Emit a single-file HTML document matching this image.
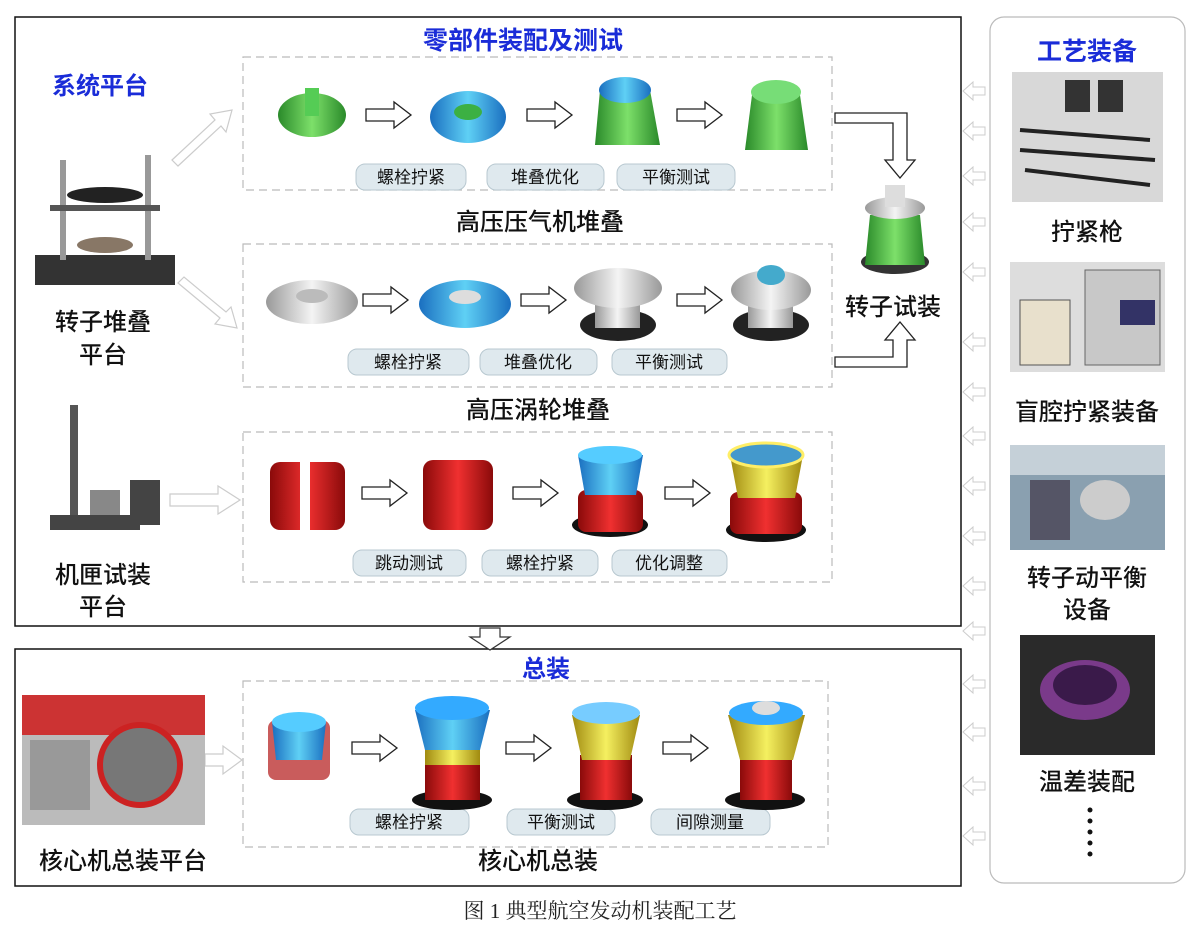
<!DOCTYPE html>
<html><head><meta charset="utf-8"><style>
body{margin:0;background:#fff}
svg{display:block}
.s{font-family:"Liberation Sans","Noto Sans CJK SC",sans-serif}
.sf{font-family:"Liberation Serif","Noto Serif CJK SC",serif}
</style></head><body>
<svg width="1200" height="929" viewBox="0 0 1200 929" xmlns="http://www.w3.org/2000/svg">
<defs>
<linearGradient id="g" x1="0" x2="1"><stop offset="0" stop-color="#2a8a2a"/><stop offset=".5" stop-color="#7de06a"/><stop offset="1" stop-color="#2a8a2a"/></linearGradient>
<linearGradient id="b" x1="0" x2="1"><stop offset="0" stop-color="#1a6fc0"/><stop offset=".5" stop-color="#5fd0f5"/><stop offset="1" stop-color="#1a6fc0"/></linearGradient>
<linearGradient id="r" x1="0" x2="1"><stop offset="0" stop-color="#8a0a0a"/><stop offset=".5" stop-color="#f03030"/><stop offset="1" stop-color="#8a0a0a"/></linearGradient>
<linearGradient id="w" x1="0" x2="1"><stop offset="0" stop-color="#999"/><stop offset=".5" stop-color="#f4f4f4"/><stop offset="1" stop-color="#999"/></linearGradient>
<linearGradient id="y" x1="0" x2="1"><stop offset="0" stop-color="#a08a10"/><stop offset=".5" stop-color="#f5f060"/><stop offset="1" stop-color="#a08a10"/></linearGradient>
<g id="ra"><path d="M0,-6 H28 V-13 L45,0 L28,13 V6 H0 Z" fill="#fff" stroke="#222" stroke-width="1.3"/></g>
</defs>
<rect x="15" y="17" width="946" height="609" fill="none" stroke="#111" stroke-width="1.5"/>
<rect x="15" y="649" width="946" height="237" fill="none" stroke="#111" stroke-width="1.5"/>
<rect x="990" y="17" width="195" height="866" rx="14" fill="none" stroke="#bbb" stroke-width="1.2"/>
<g fill="none" stroke="#bbb" stroke-dasharray="8,5" stroke-width="1.2">
<rect x="243" y="57" width="589" height="133"/>
<rect x="243" y="244" width="589" height="143"/>
<rect x="243" y="432" width="589" height="150"/>
<rect x="243" y="681" width="585" height="166"/>
</g>
<g class="s" font-weight="bold" fill="#1a2cd8" text-anchor="middle">
<text x="523" y="49" font-size="25">零部件装配及测试</text>
<text x="100" y="94" font-size="24">系统平台</text>
<text x="546" y="677" font-size="24">总装</text>
<text x="1087" y="60" font-size="25">工艺装备</text>
</g>
<g class="s" font-size="24" font-weight="500" fill="#111" text-anchor="middle">
<text x="540" y="230">高压压气机堆叠</text>
<text x="538" y="418">高压涡轮堆叠</text>
<text x="538" y="869">核心机总装</text>
<text x="893" y="315">转子试装</text>
<text x="103" y="330">转子堆叠</text><text x="103" y="363">平台</text>
<text x="103" y="583">机匣试装</text><text x="103" y="615">平台</text>
<text x="123" y="869">核心机总装平台</text>
<text x="1087" y="240">拧紧枪</text>
<text x="1087" y="420">盲腔拧紧装备</text>
<text x="1087" y="586">转子动平衡</text><text x="1087" y="618">设备</text>
<text x="1087" y="790">温差装配</text>
</g>
<text class="sf" x="600" y="918" font-size="21" fill="#222" text-anchor="middle">图 1 典型航空发动机装配工艺</text>
<g fill="#111"><circle cx="1090" cy="810" r="2.5"/><circle cx="1090" cy="821" r="2.5"/><circle cx="1090" cy="832" r="2.5"/><circle cx="1090" cy="843" r="2.5"/><circle cx="1090" cy="854" r="2.5"/></g>
<g fill="#dfe9ee" stroke="#b8c8d0">
<rect x="356" y="164" width="110" height="26" rx="9"/><rect x="487" y="164" width="117" height="26" rx="9"/><rect x="617" y="164" width="118" height="26" rx="9"/>
<rect x="348" y="349" width="121" height="26" rx="9"/><rect x="480" y="349" width="117" height="26" rx="9"/><rect x="612" y="349" width="115" height="26" rx="9"/>
<rect x="353" y="550" width="113" height="26" rx="9"/><rect x="482" y="550" width="116" height="26" rx="9"/><rect x="612" y="550" width="115" height="26" rx="9"/>
<rect x="350" y="809" width="119" height="26" rx="9"/><rect x="507" y="809" width="108" height="26" rx="9"/><rect x="651" y="809" width="119" height="26" rx="9"/>
</g>
<g class="s" font-size="17" fill="#111" text-anchor="middle">
<text x="411" y="183">螺栓拧紧</text><text x="545" y="183">堆叠优化</text><text x="676" y="183">平衡测试</text>
<text x="408" y="368">螺栓拧紧</text><text x="538" y="368">堆叠优化</text><text x="669" y="368">平衡测试</text>
<text x="409" y="569">跳动测试</text><text x="540" y="569">螺栓拧紧</text><text x="669" y="569">优化调整</text>
<text x="409" y="828">螺栓拧紧</text><text x="561" y="828">平衡测试</text><text x="710" y="828">间隙测量</text>
</g>
<use href="#ra" x="366" y="115"/><use href="#ra" x="527" y="115"/><use href="#ra" x="677" y="115"/>
<use href="#ra" x="363" y="300"/><use href="#ra" x="521" y="300"/><use href="#ra" x="677" y="300"/>
<use href="#ra" x="362" y="493"/><use href="#ra" x="513" y="493"/><use href="#ra" x="665" y="493"/>
<use href="#ra" x="352" y="748"/><use href="#ra" x="506" y="748"/><use href="#ra" x="663" y="748"/>
<g fill="#fff" stroke="#ccc" stroke-width="1.2">
<path d="M172,160 L215,120 L210,114 L232,110 L226,132 L221,126 L178,166Z"/>
<path d="M178,283 L220,318 L215,324 L237,328 L231,307 L226,312 L184,277Z"/>
<path d="M170,494 H218 V486 L240,500 L218,514 V506 H170Z"/>
<path d="M205,754 H223 V746 L242,760 L223,774 V766 H205Z"/>
<path d="M480,628 H500 V637 H510 L490,650 L470,637 H480Z" stroke="#333"/>
</g>
<g fill="#fff" stroke="#ccc">
<path d="M985,87 H973 V82 L963,91 L973,100 V95 H985Z"/>
<path d="M985,127 H973 V122 L963,131 L973,140 V135 H985Z"/>
<path d="M985,172 H973 V167 L963,176 L973,185 V180 H985Z"/>
<path d="M985,218 H973 V213 L963,222 L973,231 V226 H985Z"/>
<path d="M985,268 H973 V263 L963,272 L973,281 V276 H985Z"/>
<path d="M985,338 H973 V333 L963,342 L973,351 V346 H985Z"/>
<path d="M985,388 H973 V383 L963,392 L973,401 V396 H985Z"/>
<path d="M985,432 H973 V427 L963,436 L973,445 V440 H985Z"/>
<path d="M985,482 H973 V477 L963,486 L973,495 V490 H985Z"/>
<path d="M985,532 H973 V527 L963,536 L973,545 V540 H985Z"/>
<path d="M985,582 H973 V577 L963,586 L973,595 V590 H985Z"/>
<path d="M985,627 H973 V622 L963,631 L973,640 V635 H985Z"/>
<path d="M985,680 H973 V675 L963,684 L973,693 V688 H985Z"/>
<path d="M985,728 H973 V723 L963,732 L973,741 V736 H985Z"/>
<path d="M985,782 H973 V777 L963,786 L973,795 V790 H985Z"/>
<path d="M985,832 H973 V827 L963,836 L973,845 V840 H985Z"/>
</g>
<path d="M835,113 H907 V160 H915 L900,178 L885,160 H893 V123 H835Z" fill="#fff" stroke="#222" stroke-width="1.3"/>
<path d="M835,357 H893 V340 H885 L900,322 L915,340 H907 V367 H835Z" fill="#fff" stroke="#222" stroke-width="1.3"/>
<ellipse cx="312" cy="115" rx="34" ry="22" fill="url(#g)"/><rect x="305" y="88" width="14" height="28" fill="#5c5"/>
<ellipse cx="468" cy="117" rx="38" ry="26" fill="url(#b)"/><ellipse cx="468" cy="112" rx="14" ry="8" fill="#3cb043"/>
<path d="M600,90 L650,90 L660,145 L595,145Z" fill="url(#g)"/><ellipse cx="625" cy="90" rx="26" ry="13" fill="url(#b)"/>
<path d="M752,95 L800,95 L808,150 L745,150Z" fill="url(#g)"/><ellipse cx="776" cy="92" rx="25" ry="12" fill="#7d7"/>
<ellipse cx="895" cy="262" rx="34" ry="12" fill="#333"/>
<path d="M870,215 L920,215 L925,265 L865,265Z" fill="url(#g)"/>
<ellipse cx="895" cy="208" rx="30" ry="11" fill="url(#w)"/><rect x="885" y="185" width="20" height="22" fill="#ddd"/>
<ellipse cx="312" cy="302" rx="46" ry="22" fill="url(#w)"/><ellipse cx="312" cy="296" rx="16" ry="7" fill="#bbb"/>
<ellipse cx="465" cy="304" rx="46" ry="24" fill="url(#b)"/><ellipse cx="465" cy="297" rx="16" ry="7" fill="#ddd"/>
<ellipse cx="618" cy="325" rx="38" ry="16" fill="#222"/><path d="M595,290 H640 V328 H595Z" fill="url(#w)"/><ellipse cx="618" cy="288" rx="44" ry="20" fill="url(#w)"/>
<ellipse cx="771" cy="325" rx="38" ry="16" fill="#222"/><path d="M748,290 H793 V328 H748Z" fill="url(#w)"/><ellipse cx="771" cy="290" rx="40" ry="20" fill="url(#w)"/><ellipse cx="771" cy="275" rx="14" ry="10" fill="#4ac"/>
<rect x="270" y="462" width="75" height="68" rx="10" fill="url(#r)"/><rect x="300" y="455" width="10" height="80" fill="#fff"/>
<rect x="423" y="460" width="70" height="70" rx="10" fill="url(#r)"/>
<ellipse cx="610" cy="525" rx="38" ry="12" fill="#111"/><rect x="578" y="490" width="65" height="42" rx="8" fill="url(#r)"/><path d="M578,455 H643 L636,495 H585Z" fill="url(#b)"/><ellipse cx="610" cy="455" rx="32" ry="9" fill="#5cf"/>
<ellipse cx="766" cy="530" rx="40" ry="12" fill="#111"/><rect x="730" y="492" width="72" height="42" rx="8" fill="url(#r)"/><path d="M730,455 H803 L795,498 H738Z" fill="url(#y)"/><ellipse cx="766" cy="455" rx="37" ry="12" fill="#49c" stroke="#fe6" stroke-width="3"/>
<rect x="268" y="720" width="62" height="60" rx="8" fill="#b33" opacity=".8"/><path d="M272,722 H326 L322,760 H276Z" fill="url(#b)"/><ellipse cx="299" cy="722" rx="27" ry="10" fill="#5cf"/>
<ellipse cx="452" cy="800" rx="40" ry="10" fill="#111"/><rect x="425" y="755" width="55" height="45" fill="url(#r)"/><rect x="425" y="745" width="55" height="20" fill="url(#y)"/><path d="M415,710 H490 L480,750 H425Z" fill="url(#b)"/><ellipse cx="452" cy="708" rx="37" ry="12" fill="#3af"/>
<ellipse cx="605" cy="800" rx="38" ry="10" fill="#111"/><rect x="580" y="755" width="52" height="45" fill="url(#r)"/><path d="M572,715 H640 L630,760 H582Z" fill="url(#y)"/><ellipse cx="606" cy="713" rx="34" ry="11" fill="#7cf"/>
<ellipse cx="765" cy="800" rx="40" ry="10" fill="#111"/><rect x="740" y="755" width="52" height="45" fill="url(#r)"/><path d="M728,715 H805 L793,760 H740Z" fill="url(#y)"/><ellipse cx="766" cy="713" rx="37" ry="12" fill="#3af"/><ellipse cx="766" cy="708" rx="14" ry="7" fill="#ddd"/>
<rect x="35" y="255" width="140" height="30" fill="#333"/>
<rect x="60" y="160" width="6" height="100" fill="#999"/><rect x="145" y="155" width="6" height="105" fill="#999"/>
<rect x="50" y="205" width="110" height="6" fill="#555"/><ellipse cx="105" cy="195" rx="38" ry="8" fill="#222"/><ellipse cx="105" cy="245" rx="28" ry="8" fill="#876"/>
<rect x="70" y="405" width="8" height="120" fill="#555"/><rect x="50" y="515" width="90" height="15" fill="#444"/><rect x="130" y="480" width="30" height="45" fill="#444"/><rect x="90" y="490" width="30" height="25" fill="#888"/>
<rect x="22" y="695" width="183" height="130" fill="#bbb"/><rect x="22" y="695" width="183" height="40" fill="#c33"/><circle cx="140" cy="765" r="40" fill="#777" stroke="#c22" stroke-width="6"/><rect x="30" y="740" width="60" height="70" fill="#999"/>
<rect x="1012" y="72" width="151" height="130" fill="#d8d8d8"/><rect x="1065" y="80" width="25" height="32" fill="#333"/><rect x="1098" y="80" width="25" height="32" fill="#333"/>
<g stroke="#222" stroke-width="4"><line x1="1020" y1="130" x2="1150" y2="140"/><line x1="1020" y1="150" x2="1155" y2="160"/><line x1="1025" y1="170" x2="1150" y2="185"/></g>
<rect x="1010" y="262" width="155" height="110" fill="#ddd"/><rect x="1020" y="300" width="50" height="65" fill="#e8e0cc" stroke="#555"/><rect x="1085" y="270" width="75" height="95" fill="#c8c8c8" stroke="#666"/><rect x="1120" y="300" width="35" height="25" fill="#336"/>
<rect x="1010" y="445" width="155" height="105" fill="#8aa0b0"/><rect x="1010" y="445" width="155" height="30" fill="#c5d0d8"/><ellipse cx="1105" cy="500" rx="25" ry="20" fill="#ccc"/><rect x="1030" y="480" width="40" height="60" fill="#556"/>
<rect x="1020" y="635" width="135" height="120" fill="#2a2a2a"/><ellipse cx="1085" cy="690" rx="45" ry="30" fill="#7a3a8a"/><ellipse cx="1085" cy="685" rx="32" ry="20" fill="#3a1a4a"/>
</svg>
</body></html>
